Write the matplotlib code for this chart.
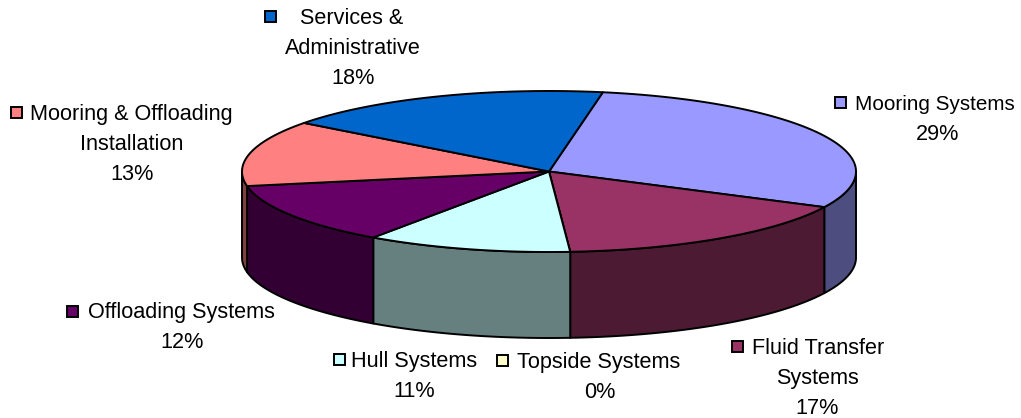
import numpy as np
import matplotlib
matplotlib.use("Agg")
import matplotlib.pyplot as plt
from matplotlib.patches import Polygon, Rectangle

categories = ["Mooring Systems", "Fluid Transfer\nSystems", "Topside Systems", "Hull Systems",
              "Offloading Systems", "Mooring & Offloading\nInstallation", "Services &\nAdministrative"]
shares = [29.49, 16.6, 0.0, 10.8, 12.4, 13.2, 17.5]
top_colors = ["#9999FF", "#993366", "#FFFFCC", "#CCFFFF", "#660066", "#FF8080", "#0066CC"]
side_colors = ["#4D4D80", "#4D1A33", "#808066", "#668080", "#330033", "#804040", "#003366"]

# key centre x, key centre y, first-line centre x, other-lines centre x, first baseline, first-line size
label_layout = [
    (840, 102, 935, 938, 110, 14.9),
    (737, 346, 818, 817, 354, 15.6),
    (502, 360, 599, 600, 368, 15.6),
    (339, 359, 414.5, 414, 367, 15.6),
    (72, 311, 181.5, 182, 318, 15.6),
    (16, 112, 131, 132, 120, 15.6),
    (270, 16, 352, 353, 24, 15.6),
]

CX, CY, RX, RY, DEPTH = 549, 171.5, 307, 80.5, 86
START = 10.1
LW = 1.4
FONT_SIZE = 15.6

plt.rcParams["font.family"] = ["Liberation Sans", "DejaVu Sans"]
fig = plt.figure(figsize=(10.21, 4.18), dpi=100, facecolor="white")
ax = fig.add_axes([0, 0, 1, 1])
ax.set_xlim(0, 1021)
ax.set_ylim(418, 0)
ax.axis("off")


def rim(t0, t1, drop=0.0):
    t = np.radians(np.linspace(t0, t1, max(2, int(abs(t1 - t0) * 2) + 2)))
    return np.column_stack([CX + RX * np.sin(t), CY - RY * np.cos(t) + drop])


edges = START + np.concatenate([[0], np.cumsum(shares)]) / sum(shares) * 360

# side walls (only the front half of the disc is visible)
for i in range(len(shares)):
    a, b = max(edges[i], 90), min(edges[i + 1], 270)
    if a < b:
        pts = np.vstack([rim(a, b), rim(a, b, DEPTH)[::-1]])
        ax.add_patch(Polygon(pts, closed=True, fc=side_colors[i], ec="black", lw=LW, joinstyle="round"))

# top face
for i in range(len(shares)):
    pts = np.vstack([[CX, CY], rim(edges[i], edges[i + 1])])
    ax.add_patch(Polygon(pts, closed=True, fc=top_colors[i], ec="black", lw=LW, joinstyle="round"))

# labels and legend keys
for name, share, color, (kx, ky, x0, x1, base, size0) in zip(categories, shares, top_colors, label_layout):
    ax.add_patch(Rectangle((kx - 5.5, ky - 5.5), 11, 11, fc=color, ec="black", lw=LW))
    lines = name.split("\n") + [f"{share:.0f}%"]
    for j, line in enumerate(lines):
        ax.text(x0 if j == 0 else x1, base + 30 * j, line, ha="center", va="baseline",
                fontsize=size0 if j == 0 else FONT_SIZE, color="black")

fig.savefig("out.png", dpi=100)
